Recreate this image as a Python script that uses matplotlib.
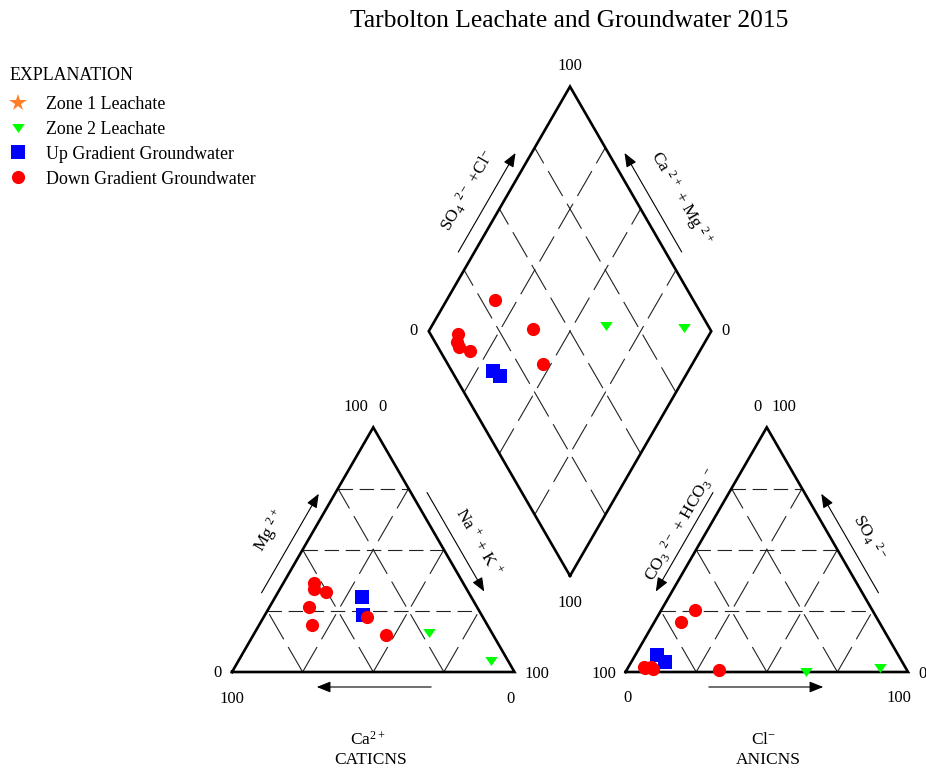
import matplotlib
matplotlib.use("Agg")
import matplotlib.pyplot as plt
import numpy as np

plt.rcParams["font.family"] = ["Liberation Serif", "DejaVu Serif"]
plt.rcParams["mathtext.default"] = "regular"

# ---- sample chemistry (percent of meq/L) ----
zone1_ca, zone1_mg, zone1_nak = [], [], []
zone1_hco3, zone1_so4, zone1_cl = [], [], []

zone2_ca = [22.3, 6.2]
zone2_mg = [15.9, 4.3]
zone2_nak = [61.8, 89.5]
zone2_hco3 = [36.0, 9.1]
zone2_so4 = [0.0, 1.6]
zone2_cl = [64.0, 89.3]

up_ca = [38.8, 42.1]
up_mg = [30.5, 23.3]
up_nak = [30.7, 34.6]
up_hco3 = [85.4, 83.9]
up_so4 = [7.0, 4.2]
up_cl = [7.6, 11.9]

down_ca = [50.4, 52.7, 54.0, 59.4, 62.1, 40.9, 37.8]
down_mg = [32.7, 36.3, 33.8, 26.7, 19.2, 22.6, 15.1]
down_nak = [16.9, 11.0, 12.2, 13.9, 18.7, 36.5, 47.1]
down_hco3 = [70.2, 90.0, 92.3, 92.4, 89.5, 62.8, 66.5]
down_so4 = [20.3, 2.0, 1.5, 2.2, 1.2, 25.3, 0.8]
down_cl = [9.5, 8.0, 6.2, 5.4, 9.3, 11.9, 32.7]

grid_levels = [25, 50, 75]

# ---- Piper geometry ----
GAP = 39.3
H = np.sqrt(3) / 2
AX0 = 100 + GAP  # left vertex of anion triangle


def cation_xy(mg, nak):
    mg, nak = np.asarray(mg, float), np.asarray(nak, float)
    return nak + mg / 2, mg * H


def anion_xy(so4, cl):
    so4, cl = np.asarray(so4, float), np.asarray(cl, float)
    return AX0 + cl + so4 / 2, so4 * H


def diamond_xy(nak, so4, cl):
    nak = np.asarray(nak, float)
    s = AX0 + np.asarray(cl, float) + np.asarray(so4, float)
    return (nak + s) / 2, (s - nak) * H


# ---- figure ----
W, Hpx, DPI = 926, 772, 100
SCALE = 2.825  # pixels per percent unit
fig = plt.figure(figsize=(W / DPI, Hpx / DPI), dpi=DPI)
ax = fig.add_axes([0, 0, 1, 1])
ax.set_xlim(-232 / SCALE, (W - 232) / SCALE)
ax.set_ylim((672 - Hpx) / SCALE, 672 / SCALE)
ax.axis("off")

EDGE = dict(color="black", lw=1.9, solid_joinstyle="miter", zorder=2)
HDASH = dict(color="#222222", lw=0.8, ls=(0, (13, 6)), zorder=1)
SDASH = dict(color="#222222", lw=0.8, ls=(0, (26, 8)), zorder=1)

# triangles
for x0 in (0, AX0):
    ax.plot([x0, x0 + 100, x0 + 50, x0], [0, 0, 100 * H, 0], **EDGE)
    for f in grid_levels:
        ax.plot([x0 + f / 2, x0 + 100 - f / 2], [f * H, f * H], **HDASH)
        ax.plot([x0 + f, x0 + f + (100 - f) / 2], [0, (100 - f) * H], **SDASH)
        ax.plot([x0 + 100 - f, x0 + (100 - f) / 2], [0, (100 - f) * H], **SDASH)

# diamond
d0 = np.array([100 + GAP / 2, GAP * H])
u_left = np.array([-0.5, H])
u_right = np.array([0.5, H])
dl, dr, dt = d0 + 100 * u_left, d0 + 100 * u_right, d0 + 100 * (u_left + u_right)
pts = np.array([d0, dr, dt, dl, d0])
ax.plot(pts[:, 0], pts[:, 1], **EDGE)
for f in grid_levels:
    a = d0 + f * u_right
    b = a + 100 * u_left
    ax.plot([a[0], b[0]], [a[1], b[1]], **SDASH)
    a = d0 + f * u_left
    b = a + 100 * u_right
    ax.plot([a[0], b[0]], [a[1], b[1]], **SDASH)

# ---- data markers ----
tri_down = [(-1, 0.72), (1, 0.72), (0, -0.72), (-1, 0.72)]
styles = [
    ("Zone 1 Leachate", dict(marker="*", color="#FF7F27", ms=13),
     zone1_mg, zone1_nak, zone1_so4, zone1_cl),
    ("Zone 2 Leachate", dict(marker=tri_down, color="#00FF00", ms=9),
     zone2_mg, zone2_nak, zone2_so4, zone2_cl),
    ("Up Gradient Groundwater", dict(marker="s", color="#0000FF", ms=9.5),
     up_mg, up_nak, up_so4, up_cl),
    ("Down Gradient Groundwater", dict(marker="o", color="#FF0000", ms=9.5),
     down_mg, down_nak, down_so4, down_cl),
]
handles = []
for label, st, mg, nak, so4, cl in styles:
    kw = dict(ls="none", markeredgewidth=0, zorder=4, **st)
    h, = ax.plot(*cation_xy(mg, nak), label=label, **kw)
    ax.plot(*anion_xy(so4, cl), **kw)
    ax.plot(*diamond_xy(nak, so4, cl), **kw)
    handles.append(h)

# ---- labels ----
FS = 12
px = 1 / SCALE


def at(p):
    return float(p[0]), float(p[1])


# cation triangle scale numbers
ax.text(50 - 5 * px, 100 * H + 20 * px, "100", fontsize=FS, ha="right", va="center")
ax.text(50 + 5 * px, 100 * H + 20 * px, "0", fontsize=FS, ha="left", va="center")
ax.text(-10 * px, -1 * px, "0", fontsize=FS, ha="right", va="center")
ax.text(0, -27 * px, "100", fontsize=FS, ha="center", va="center")
ax.text(100 + 10 * px, -2 * px, "100", fontsize=FS, ha="left", va="center")
ax.text(100 - 4 * px, -27 * px, "0", fontsize=FS, ha="center", va="center")
# anion triangle scale numbers
ax.text(AX0 + 50 - 5 * px, 100 * H + 20 * px, "0", fontsize=FS, ha="right", va="center")
ax.text(AX0 + 50 + 5 * px, 100 * H + 20 * px, "100", fontsize=FS, ha="left", va="center")
ax.text(AX0 - 9 * px, -2 * px, "100", fontsize=FS, ha="right", va="center")
ax.text(AX0 + 2 * px, -26 * px, "0", fontsize=FS, ha="center", va="center")
ax.text(AX0 + 100 + 10 * px, -2 * px, "0", fontsize=FS, ha="left", va="center")
ax.text(AX0 + 100 - 9 * px, -26 * px, "100", fontsize=FS, ha="center", va="center")
# diamond scale numbers
ax.text(dt[0], dt[1] + 21 * px, "100", fontsize=FS, ha="center", va="center")
ax.text(d0[0], d0[1] - 27 * px, "100", fontsize=FS, ha="center", va="center")
ax.text(dl[0] - 11 * px, dl[1], "0", fontsize=FS, ha="right", va="center")
ax.text(dr[0] + 10 * px, dr[1], "0", fontsize=FS, ha="left", va="center")

LFS = 12.5
ARROW = dict(arrowstyle="-|>,head_length=0.7,head_width=0.28", color="black",
             lw=0.8, shrinkA=0, shrinkB=0, mutation_scale=12)


def edge_arrow(p_from, p_to, normal, off, f0=0.295, f1=0.70):
    p_from, p_to, normal = map(np.asarray, (p_from, p_to, normal))
    d = p_to - p_from
    a = p_from + f0 * d + off * px * normal
    b = p_from + f1 * d + off * px * normal
    ax.annotate("", xy=at(b), xytext=at(a), arrowprops=ARROW)


def edge_label(p_from, p_to, normal, off, text, rot, frac=0.5, fs=LFS):
    p_from, p_to, normal = map(np.asarray, (p_from, p_to, normal))
    p = p_from + frac * (p_to - p_from) + off * px * normal
    ax.text(p[0], p[1], text, fontsize=fs, rotation=rot, rotation_mode="anchor",
            ha="center", va="center")


nl = np.array([-H, 0.5])   # outward normal for up-right edges on the left
nr = np.array([H, 0.5])    # outward normal for up-left edges on the right
down = np.array([0.0, -1.0])

# cation triangle
ca_l, ca_r, ca_t = np.array([0, 0]), np.array([100, 0]), np.array([50, 100 * H])
edge_arrow(ca_l, ca_t, nl, 14)
edge_label(ca_l, ca_t, nl, 38, r"Mg $^{2+}$", 60)
edge_arrow(ca_t, ca_r, nr, 14)
edge_label(ca_t, ca_r, nr, 34, r"Na $^{+}$ + K $^{+}$", -60, frac=0.54)
edge_arrow(ca_r, ca_l, down, 15)
ax.text(50 - 5 * px, -68 * px, r"Ca$^{2+}$", fontsize=LFS, ha="center", va="center")
ax.text(50 - 3 * px, -88 * px, "CATICNS", fontsize=LFS, ha="center", va="center")

# anion triangle
an_l, an_r, an_t = np.array([AX0, 0]), np.array([AX0 + 100, 0]), np.array([AX0 + 50, 100 * H])
edge_arrow(an_t, an_l, nl, 14)
edge_label(an_l, an_t, nl, 25, r"CO$_3$ $^{2-}$ + HCO$_3$ $^{-}$", 60, frac=0.55)
edge_arrow(an_r, an_t, nr, 14)
edge_label(an_t, an_r, nr, 34, r"SO$_4$ $^{2-}$", -60, frac=0.52)
edge_arrow(an_l, an_r, down, 15)
ax.text(AX0 + 50 - 3 * px, -68 * px, r"Cl$^{-}$", fontsize=LFS, ha="center", va="center")
ax.text(AX0 + 50 + 2 * px, -88 * px, "ANICNS", fontsize=LFS, ha="center", va="center")

# diamond
edge_arrow(dl, dt, nl, 14)
edge_label(dl, dt, nl, 36, r"SO$_4$ $^{2-}$ +Cl$^{-}$", 60, frac=0.50)
edge_arrow(dr, dt, nr, 14)
edge_label(dt, dr, nr, 40, r"Ca $^{2+}$ + Mg $^{2+}$", -60, frac=0.54)

fig.text(569 / W, 1 - 21 / Hpx, "Tarbolton Leachate and Groundwater 2015",
         fontsize=18.4, ha="center", va="center")

# explanation block
fig.text(10 / W, 1 - 75 / Hpx, "EXPLANATION", fontsize=12.9, ha="left", va="center")
leg = ax.legend(handles=handles, loc="upper left",
                bbox_to_anchor=(8 / W, 1 - 96 / Hpx), bbox_transform=fig.transFigure,
                frameon=False, fontsize=12.9, borderpad=0, borderaxespad=0,
                handlelength=1.15, handletextpad=0.95, labelspacing=0.44)

fig.savefig("out.png", dpi=DPI)
